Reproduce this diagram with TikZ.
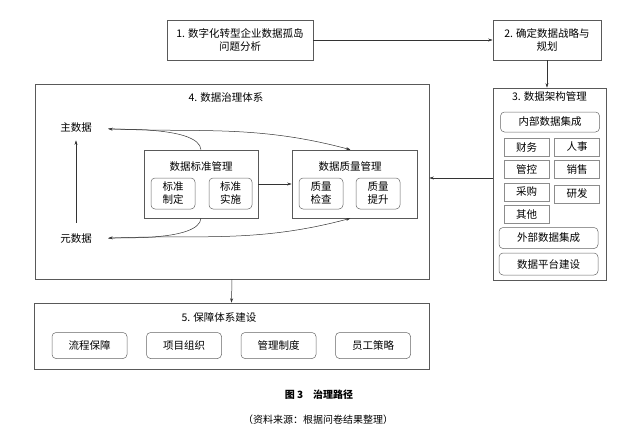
\documentclass[tikz,border=0pt]{standalone}
\usepackage{fontspec}
\setmainfont{Noto Sans CJK SC}
\usetikzlibrary{positioning,arrows.meta}

\begin{document}
\begin{tikzpicture}[x=1pt,y=1pt,>={Stealth[length=4.5pt,width=3pt]},
	font=\fontsize{10.5}{13}\selectfont,
	frame/.style={draw=black!65,line width=0.6pt,align=center,inner sep=0pt},
	item/.style={draw=black!60,line width=0.5pt,rounded corners=4pt,align=center,inner sep=0pt},
	cell/.style={draw=black!45,line width=0.5pt,minimum width=45pt,minimum height=18pt,inner sep=0pt},
	link/.style={->,draw=black!80,line width=0.5pt}]
	\useasboundingbox (0,0) rectangle (638,-440);
	% top row
	\node[frame,minimum width=146pt,minimum height=40pt] (p1) at (240,-40) {1. 数字化转型企业数据孤岛\\问题分析};
	\node[frame,minimum width=108pt,minimum height=40pt] (p2) at (547,-40) {2. 确定数据战略与\\规划};
	% 3
	\node[frame,minimum width=113pt,minimum height=192pt] (arch) at (549.5,-184) {};
	\node (archT) at (549.5,-97) {3. 数据架构管理};
	\node[item,minimum width=99pt,minimum height=20pt] (inner) at (550,-122) {内部数据集成};
	\node[cell] (fin) at (526.5,-147) {财务};
	\node[cell] (hr) [right=5pt of fin] {人事};
	\node[cell] (ctl) [below=4pt of fin] {管控};
	\node[cell] (sal) [right=5pt of ctl] {销售};
	\node[cell] (buy) [below=4pt of ctl] {采购};
	\node[cell] (rnd) [right=5pt of buy,yshift=-2pt] {研发};
	\node[cell] (oth) [below=4pt of buy] {其他};
	\node[item,minimum width=99pt,minimum height=21pt] (outer) at (548.5,-238) {外部数据集成};
	\node[item,minimum width=99pt,minimum height=22pt] (plat) at (548.5,-264) {数据平台建设};
	% 4
	\node[frame,minimum width=394pt,minimum height=195pt] (gov) at (232,-181.5) {};
	\node (govT) at (226,-98) {4. 数据治理体系};
	\node (zhu) at (76,-128) {主数据};
	\node (yuan) at (76,-239) {元数据};
	\node[frame,minimum width=114pt,minimum height=68pt] (std) at (201,-184) {};
	\node (stdT) at (201,-166) {数据标准管理};
	\node[item,minimum width=44pt,minimum height=31pt] (make) at (173,-193.5) {标准\\制定};
	\node[item,minimum width=43pt,minimum height=31pt] (run) at (230.5,-193.5) {标准\\实施};
	\node[frame,minimum width=125pt,minimum height=68pt] (qual) at (354.5,-184) {};
	\node (qualT) at (350,-166) {数据质量管理};
	\node[item,minimum width=44pt,minimum height=31pt] (chk) at (321,-193.5) {质量\\检查};
	\node[item,minimum width=44pt,minimum height=31pt] (up) at (378,-193.5) {质量\\提升};
	% 5
	\node[frame,minimum width=395pt,minimum height=66pt] (guar) at (231.5,-336) {};
	\node (guarT) at (219,-317) {5. 保障体系建设};
	\node[item,minimum width=75pt,minimum height=26pt] (flow) at (89.5,-345.5) {流程保障};
	\node[item,minimum width=75pt,minimum height=26pt] (org) [right=19pt of flow] {项目组织};
	\node[item,minimum width=75pt,minimum height=26pt] (rule) [right=19pt of org] {管理制度};
	\node[item,minimum width=75pt,minimum height=26pt] (staff) [right=19pt of rule] {员工策略};
	% caption
	\node[font=\fontsize{10}{12}\selectfont\bfseries] (cap) at (319,-395) {图 3\quad 治理路径};
	\node[font=\fontsize{10}{12}\selectfont] (src) at (318,-420) {（资料来源：根据问卷结果整理）};
	% connectors
	\draw[link] (p1) -- (p2);
	\draw[link] (p2.south) -- (p2.south |- arch.north);
	\draw[link] ([yshift=6pt]arch.west) -- ([yshift=6pt]arch.west -| gov.east);
	\draw[link] (gov.south) -- (guar.north);
	\draw[link] (std) -- (qual);
	\draw[link,shorten <=8pt,shorten >=4pt] (yuan) -- (zhu);
	\draw[link,shorten >=13pt] (std.north) to[out=95,in=-4,looseness=0.55] (zhu.east);
	\draw[link,shorten <=13pt] (zhu.east) to[out=-3,in=165] ([xshift=-4pt]qual.north);
	\draw[link,shorten >=13pt] (std.south) to[out=-95,in=4,looseness=0.55] (yuan.east);
	\draw[link,shorten <=13pt] (yuan.east) to[out=3,in=-165] ([xshift=-4pt]qual.south);
\end{tikzpicture}
\end{document}
